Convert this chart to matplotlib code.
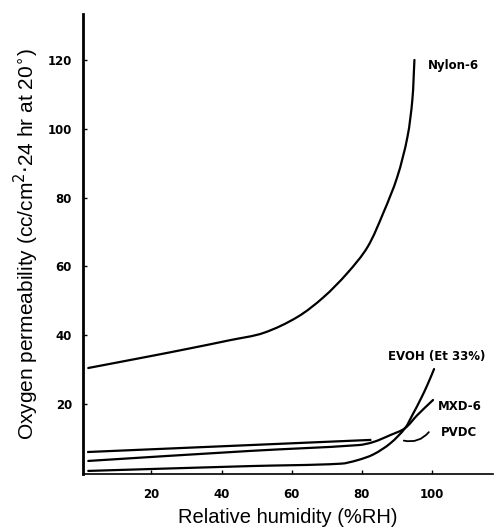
import matplotlib
matplotlib.use("Agg")
import matplotlib.pyplot as plt
from matplotlib.path import Path
from matplotlib.patches import PathPatch
import numpy as np

plt.rcParams['font.family'] = ['Liberation Sans', 'DejaVu Sans']

nylon_x = [2, 20, 30, 42.5, 52, 61.6, 69, 75.8, 81.6, 86.1, 90.1, 93, 94.4, 95]
nylon_y = [30.5, 34, 36, 38.6, 40.7, 45.3, 51, 58, 65.6, 75.5, 86, 97.6, 108.4, 120]

pvdc_x = [2, 48, 82.4]
pvdc_y = [6.1, 8.1, 9.6]

mxd_x = [2, 48, 79, 83.3, 88.1, 92.3, 95.8, 100.3]
mxd_y = [3.5, 6.4, 8.1, 9.0, 11.0, 13.0, 16.8, 21.2]

evoh_x = [2, 48, 74, 78.7, 83.3, 88.1, 92.3, 94.5, 96.7, 98.7, 100.6]
evoh_y = [0.6, 2.0, 2.7, 3.7, 5.4, 8.6, 13.0, 17.0, 21.3, 25.6, 30.2]

x_ticks = [20, 40, 60, 80, 100]
y_ticks = [20, 40, 60, 80, 100, 120]

fig = plt.figure(figsize=(5.0, 5.32), dpi=100)
ax = fig.add_axes([0.166, 0.109, 0.82, 0.865])

ax.set_xlim(0.5, 117.4)
ax.set_ylim(-0.3, 133.4)


def smooth_curve(ax, xs, ys, lw=1.6):
    """Draw a smooth cubic Bezier curve through the data points (no overshoot),
    computed in display space."""
    pts = ax.transData.transform(np.column_stack([xs, ys]))
    n = len(pts)
    tangents = []
    for i in range(n):
        a = pts[i - 1] if i > 0 else pts[i]
        b = pts[i + 1] if i < n - 1 else pts[i]
        d = b - a
        tangents.append(d / (np.hypot(*d) + 1e-9))
    verts = [tuple(pts[0])]
    codes = [Path.MOVETO]
    for i in range(n - 1):
        p1, p2 = pts[i], pts[i + 1]
        L = np.hypot(*(p2 - p1)) / 3.0
        c1 = p1 + tangents[i] * L
        c2 = p2 - tangents[i + 1] * L
        verts += [tuple(c1), tuple(c2), tuple(p2)]
        codes += [Path.CURVE4] * 3
    inv = ax.transData.inverted()
    verts = inv.transform(np.array(verts))
    patch = PathPatch(Path(verts, codes), facecolor='none', edgecolor='black',
                      lw=lw, capstyle='round', joinstyle='round')
    ax.add_patch(patch)


smooth_curve(ax, nylon_x, nylon_y)
ax.plot(pvdc_x, pvdc_y, color='black', lw=1.6)
smooth_curve(ax, mxd_x, mxd_y)
smooth_curve(ax, evoh_x, evoh_y)

ax.set_xticks(x_ticks)
ax.set_yticks(y_ticks)
tick_font = dict(family='DejaVu Sans', fontweight='bold', fontsize=8.5)
ax.set_xticklabels([str(v) for v in x_ticks], **tick_font)
ax.set_yticklabels([str(v) for v in y_ticks], **tick_font)
ax.tick_params(axis='both', direction='in', length=3, width=1)
ax.tick_params(axis='x', pad=10)
ax.tick_params(axis='y', pad=8)

for s in ['top', 'right']:
    ax.spines[s].set_visible(False)
ax.spines['left'].set_linewidth(2)
ax.spines['bottom'].set_linewidth(1.2)

ax.set_xlabel('Relative humidity (%RH)', fontsize=14.5, labelpad=5)
ax.set_ylabel('Oxygen permeability (cc/cm$^2$$\\cdot$24 hr at 20$^{\\circ}$)',
              fontsize=15, labelpad=5)

lab_font = dict(family='DejaVu Sans', fontweight='bold', fontsize=8.5, va='center', ha='left')
ax.text(98.7, 118.3, 'Nylon-6', **lab_font)
ax.text(87.5, 33.7, 'EVOH (Et 33%)', **lab_font)
ax.text(101.8, 19.4, 'MXD-6', **lab_font)
ax.text(102.4, 11.8, 'PVDC', **lab_font)

ax.annotate('', xy=(99.6, 12.5), xytext=(91.2, 9.6),
            arrowprops=dict(arrowstyle='-', color='black', lw=1.3,
                            connectionstyle='arc3,rad=0.35'))

fig.savefig('out.png', dpi=100)
